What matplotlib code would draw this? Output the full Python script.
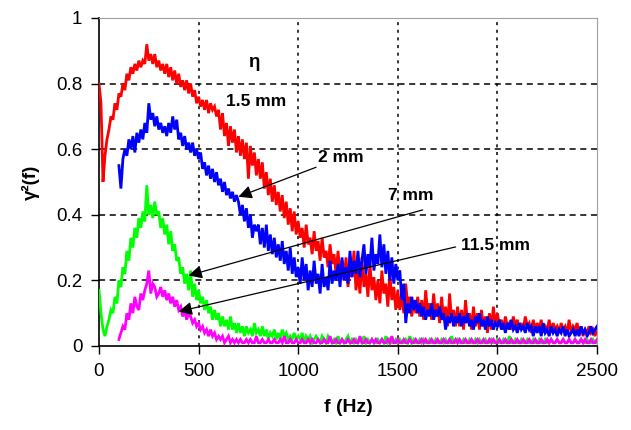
import numpy as np
import matplotlib
matplotlib.use("Agg")
import matplotlib.pyplot as plt

plt.rcParams['font.family'] = ['Liberation Sans', 'DejaVu Sans']

# frequency step (Hz) and start of each series
step = 10
start_red, start_blue, start_green, start_mag = 0, 100, 0, 100

# one row = 100 Hz
red = [0.80, 0.74, 0.50, 0.58, 0.63, 0.66, 0.70, 0.69, 0.74, 0.72,
       0.77, 0.76, 0.80, 0.78, 0.83, 0.81, 0.85, 0.83, 0.86, 0.84,
       0.87, 0.85, 0.87, 0.86, 0.92, 0.87, 0.89, 0.86, 0.89, 0.85,
       0.87, 0.84, 0.86, 0.83, 0.86, 0.82, 0.85, 0.81, 0.84, 0.80,
       0.83, 0.79, 0.81, 0.78, 0.81, 0.77, 0.80, 0.76, 0.78, 0.74,
       0.76, 0.73, 0.75, 0.72, 0.75, 0.71, 0.74, 0.72, 0.73, 0.70,
       0.72, 0.66, 0.71, 0.64, 0.68, 0.61, 0.67, 0.62, 0.66, 0.59,
       0.64, 0.58, 0.63, 0.57, 0.62, 0.51, 0.61, 0.55, 0.59, 0.52,
       0.57, 0.51, 0.56, 0.48, 0.53, 0.46, 0.51, 0.44, 0.49, 0.43,
       0.47, 0.41, 0.46, 0.39, 0.44, 0.37, 0.42, 0.35, 0.41, 0.34,
       0.38, 0.33, 0.36, 0.30, 0.37, 0.31, 0.33, 0.28, 0.35, 0.29,
       0.32, 0.26, 0.33, 0.27, 0.29, 0.24, 0.31, 0.25, 0.28, 0.22,
       0.29, 0.21, 0.26, 0.20, 0.27, 0.18, 0.25, 0.21, 0.29, 0.17,
       0.23, 0.16, 0.27, 0.18, 0.22, 0.15, 0.25, 0.17, 0.21, 0.14,
       0.20, 0.13, 0.23, 0.16, 0.19, 0.12, 0.22, 0.14, 0.18, 0.11,
       0.17, 0.11, 0.16, 0.10, 0.19, 0.12, 0.15, 0.09, 0.14, 0.10,
       0.15, 0.09, 0.14, 0.08, 0.17, 0.10, 0.13, 0.08, 0.16, 0.09,
       0.13, 0.07, 0.15, 0.08, 0.12, 0.06, 0.16, 0.08, 0.11, 0.06,
       0.12, 0.06, 0.11, 0.05, 0.14, 0.07, 0.10, 0.05, 0.12, 0.06,
       0.10, 0.05, 0.11, 0.06, 0.09, 0.04, 0.10, 0.05, 0.12, 0.06,
       0.10, 0.06, 0.08, 0.05, 0.09, 0.06, 0.07, 0.05, 0.09, 0.06,
       0.08, 0.05, 0.07, 0.05, 0.09, 0.06, 0.07, 0.04, 0.08, 0.05,
       0.07, 0.05, 0.08, 0.04, 0.06, 0.05, 0.08, 0.04, 0.07, 0.05,
       0.06, 0.04, 0.07, 0.05, 0.06, 0.04, 0.08, 0.04, 0.06, 0.05,
       0.07, 0.04, 0.06, 0.03, 0.05, 0.04, 0.06, 0.04, 0.05, 0.03,
       0.05]

blue = [0.55, 0.48, 0.57, 0.60, 0.58, 0.63, 0.60, 0.64, 0.59, 0.65,
        0.62, 0.66, 0.63, 0.68, 0.65, 0.74, 0.69, 0.71, 0.67, 0.70,
        0.66, 0.68, 0.65, 0.67, 0.64, 0.68, 0.65, 0.70, 0.66, 0.69,
        0.63, 0.65, 0.61, 0.64, 0.60, 0.62, 0.59, 0.62, 0.58, 0.60,
        0.57, 0.59, 0.54, 0.56, 0.52, 0.55, 0.51, 0.54, 0.50, 0.53,
        0.49, 0.51, 0.47, 0.50, 0.46, 0.48, 0.45, 0.47, 0.44, 0.46,
        0.44, 0.40, 0.43, 0.38, 0.42, 0.36, 0.40, 0.33, 0.37, 0.35,
        0.37, 0.31, 0.36, 0.30, 0.37, 0.29, 0.34, 0.28, 0.33, 0.27,
        0.31, 0.26, 0.32, 0.25, 0.29, 0.23, 0.30, 0.22, 0.27, 0.21,
        0.24, 0.19, 0.27, 0.20, 0.25, 0.17, 0.23, 0.18, 0.26, 0.19,
        0.22, 0.16, 0.25, 0.18, 0.21, 0.17, 0.26, 0.19, 0.23, 0.20,
        0.25, 0.18, 0.27, 0.20, 0.24, 0.19, 0.29, 0.21, 0.26, 0.22,
        0.29, 0.21, 0.26, 0.31, 0.22, 0.28, 0.24, 0.33, 0.23, 0.28,
        0.25, 0.34, 0.24, 0.31, 0.22, 0.29, 0.20, 0.27, 0.19, 0.25,
        0.20, 0.23, 0.14, 0.19, 0.07, 0.13, 0.10, 0.15, 0.11, 0.14,
        0.10, 0.13, 0.09, 0.12, 0.08, 0.11, 0.09, 0.13, 0.08, 0.11,
        0.09, 0.12, 0.08, 0.10, 0.05, 0.09, 0.07, 0.10, 0.06, 0.09,
        0.07, 0.10, 0.06, 0.09, 0.07, 0.10, 0.06, 0.08, 0.05, 0.09,
        0.07, 0.10, 0.06, 0.08, 0.05, 0.09, 0.06, 0.08, 0.05, 0.07,
        0.06, 0.08, 0.05, 0.07, 0.04, 0.07, 0.05, 0.08, 0.05, 0.06,
        0.04, 0.07, 0.05, 0.06, 0.04, 0.07, 0.05, 0.06, 0.03, 0.06,
        0.04, 0.06, 0.03, 0.07, 0.04, 0.05, 0.03, 0.06, 0.04, 0.05,
        0.03, 0.05, 0.04, 0.06, 0.03, 0.05, 0.03, 0.04, 0.05, 0.03,
        0.05, 0.03, 0.06, 0.04, 0.05, 0.03, 0.04, 0.06, 0.04, 0.05,
        0.06]

green = [0.17, 0.10, 0.05, 0.03, 0.06, 0.08, 0.11, 0.10, 0.15, 0.13,
         0.20, 0.18, 0.24, 0.22, 0.29, 0.26, 0.33, 0.30, 0.36, 0.33,
         0.39, 0.36, 0.41, 0.38, 0.49, 0.40, 0.43, 0.39, 0.44, 0.40,
         0.41, 0.36, 0.39, 0.34, 0.37, 0.31, 0.35, 0.29, 0.31, 0.26,
         0.27, 0.22, 0.24, 0.19, 0.22, 0.17, 0.23, 0.15, 0.19, 0.14,
         0.17, 0.13, 0.15, 0.11, 0.14, 0.10, 0.12, 0.08, 0.11, 0.08,
         0.10, 0.06, 0.09, 0.06, 0.08, 0.05, 0.09, 0.05, 0.07, 0.04,
         0.07, 0.04, 0.06, 0.03, 0.06, 0.04, 0.05, 0.03, 0.07, 0.04,
         0.05, 0.03, 0.06, 0.03, 0.05, 0.02, 0.04, 0.03, 0.05, 0.02,
         0.04, 0.02, 0.05, 0.03, 0.04, 0.02, 0.03, 0.02, 0.04, 0.02,
         0.03, 0.02, 0.04, 0.01, 0.03, 0.02, 0.03, 0.01, 0.02, 0.03,
         0.02, 0.01, 0.03, 0.02, 0.01, 0.03, 0.02, 0.01, 0.02, 0.01,
         0.03, 0.01, 0.02, 0.01, 0.02, 0.03, 0.01, 0.02, 0.01, 0.02,
         0.01, 0.02, 0.01, 0.03, 0.01, 0.02, 0.01, 0.02, 0.01, 0.01,
         0.02, 0.01, 0.02, 0.01, 0.03, 0.01, 0.02, 0.01, 0.01, 0.02,
         0.01, 0.02, 0.01, 0.01, 0.02, 0.01, 0.03, 0.01, 0.02, 0.01,
         0.01, 0.02, 0.01, 0.02, 0.01, 0.01, 0.02, 0.01, 0.01, 0.02,
         0.01, 0.01, 0.02, 0.01, 0.02, 0.01, 0.01, 0.03, 0.01, 0.01,
         0.02, 0.01, 0.01, 0.02, 0.01, 0.01, 0.02, 0.01, 0.01, 0.02,
         0.01, 0.02, 0.01, 0.01, 0.02, 0.01, 0.01, 0.02, 0.01, 0.01,
         0.02, 0.01, 0.01, 0.02, 0.01, 0.01, 0.03, 0.01, 0.01, 0.02,
         0.01, 0.01, 0.02, 0.01, 0.01, 0.02, 0.01, 0.01, 0.02, 0.01,
         0.01, 0.02, 0.01, 0.01, 0.02, 0.01, 0.01, 0.02, 0.01, 0.01,
         0.02, 0.01, 0.01, 0.02, 0.01, 0.01, 0.02, 0.01, 0.01, 0.02,
         0.01, 0.01, 0.02, 0.01, 0.01, 0.02, 0.01, 0.01, 0.02, 0.01,
         0.01]

magenta = [0.02, 0.04, 0.06, 0.05, 0.10, 0.08, 0.13, 0.10, 0.15, 0.12,
           0.11, 0.16, 0.14, 0.17, 0.19, 0.23, 0.16, 0.19, 0.18, 0.15,
           0.16, 0.18, 0.15, 0.17, 0.14, 0.16, 0.13, 0.15, 0.12, 0.14,
           0.11, 0.12, 0.09, 0.11, 0.08, 0.10, 0.09, 0.07, 0.08, 0.06,
           0.07, 0.05, 0.06, 0.04, 0.05, 0.03, 0.05, 0.03, 0.04, 0.02,
           0.03, 0.02, 0.03, 0.01, 0.02, 0.03, 0.01, 0.02, 0.01, 0.02,
           0.01, 0.02, 0.01, 0.01, 0.02, 0.01, 0.02, 0.01, 0.01, 0.03,
           0.01, 0.01, 0.02, 0.01, 0.01, 0.02, 0.01, 0.01, 0.02, 0.01,
           0.01, 0.02, 0.01, 0.03, 0.01, 0.01, 0.02, 0.01, 0.01, 0.02,
           0.01, 0.01, 0.02, 0.01, 0.01, 0.02, 0.01, 0.02, 0.01, 0.01,
           0.02, 0.01, 0.01, 0.02, 0.01, 0.01, 0.03, 0.01, 0.01, 0.02,
           0.01, 0.01, 0.02, 0.01, 0.01, 0.02, 0.01, 0.01, 0.02, 0.01,
           0.01, 0.03, 0.01, 0.01, 0.02, 0.01, 0.01, 0.02, 0.01, 0.02,
           0.01, 0.01, 0.02, 0.01, 0.01, 0.02, 0.01, 0.03, 0.01, 0.01,
           0.02, 0.01, 0.01, 0.02, 0.01, 0.01, 0.02, 0.01, 0.01, 0.02,
           0.01, 0.01, 0.02, 0.01, 0.02, 0.01, 0.01, 0.02, 0.01, 0.01,
           0.02, 0.01, 0.01, 0.02, 0.01, 0.01, 0.02, 0.01, 0.01, 0.02,
           0.01, 0.02, 0.01, 0.01, 0.02, 0.01, 0.01, 0.02, 0.01, 0.01,
           0.02, 0.01, 0.01, 0.02, 0.01, 0.01, 0.02, 0.01, 0.02, 0.01,
           0.01, 0.02, 0.01, 0.01, 0.02, 0.01, 0.01, 0.02, 0.01, 0.01,
           0.02, 0.01, 0.01, 0.02, 0.01, 0.01, 0.02, 0.01, 0.01, 0.02,
           0.01, 0.01, 0.02, 0.01, 0.01, 0.02, 0.01, 0.02, 0.01, 0.01,
           0.02, 0.01, 0.01, 0.02, 0.01, 0.01, 0.02, 0.01, 0.01, 0.02,
           0.01, 0.01, 0.02, 0.01, 0.02, 0.01, 0.01, 0.02, 0.01, 0.01,
           0.02]

xticks = [0, 500, 1000, 1500, 2000, 2500]
yticks = [0, 0.2, 0.4, 0.6, 0.8, 1]
ytick_labels = ["0", "0.2", "0.4", "0.6", "0.8", "1"]

# label text, label position, arrow head position
labels = [("1.5 mm", (790, 0.745), None),
          ("2 mm", (1215, 0.575), (700, 0.455)),
          ("7 mm", (1565, 0.46), (450, 0.215)),
          ("11.5 mm", (1990, 0.305), (400, 0.105))]
arrow_tails = {"2 mm": (1090, 0.545), "7 mm": (1625, 0.415), "11.5 mm": (1790, 0.302)}


def freqs(start, vals):
    return start + step * np.arange(len(vals))


fig = plt.figure(figsize=(6.31, 4.30), dpi=100)
ax = fig.add_axes([99/631, 84/430, 498/631, 328/430])

for start, vals, col in [(start_red, red, "#ff0000"), (start_blue, blue, "#0000ff"),
                         (start_green, green, "#00ff00"), (start_mag, magenta, "#ff00ff")]:
    ax.plot(freqs(start, vals), vals, color=col, lw=2.0, solid_joinstyle="miter", zorder=3)

ax.set_xlim(0, 2500)
ax.set_ylim(0, 1)
ax.set_xticks(xticks)
ax.set_yticks(yticks)
ax.set_yticklabels(ytick_labels)
ax.tick_params(direction="out", length=6, width=1, labelsize=13.5, pad=6)

# grid: dashed horizontals, dotted verticals
for y in yticks[1:-1]:
    ax.axhline(y, color="black", lw=1.1, ls=(0, (4, 3)), zorder=1)
for x in xticks[1:-1]:
    ax.axvline(x, color="black", lw=1.1, ls=(0, (2, 3)), zorder=1)

ax.spines["top"].set_color("#a0a0a0")
ax.spines["right"].set_color("#a0a0a0")
ax.spines["left"].set_linewidth(1.2)
ax.spines["bottom"].set_linewidth(1.2)

ax.set_xlabel("f (Hz)", fontsize=14, fontweight="bold", labelpad=14)
ax.set_ylabel("γ²(f)", fontsize=13.5, fontweight="bold", labelpad=12)

ax.text(775, 0.865, "η", fontsize=13.5, fontweight="bold", ha="center", va="center")
for txt, pos, head in labels:
    ax.text(pos[0], pos[1], txt, fontsize=12.5, fontweight="bold", ha="center", va="center")
    if head is not None:
        ax.annotate("", xy=head, xytext=arrow_tails[txt],
                    arrowprops=dict(arrowstyle="-|>", color="black", lw=0.9,
                                    mutation_scale=20, shrinkA=0, shrinkB=0),
                    zorder=5)

fig.savefig("out.png", dpi=100)
